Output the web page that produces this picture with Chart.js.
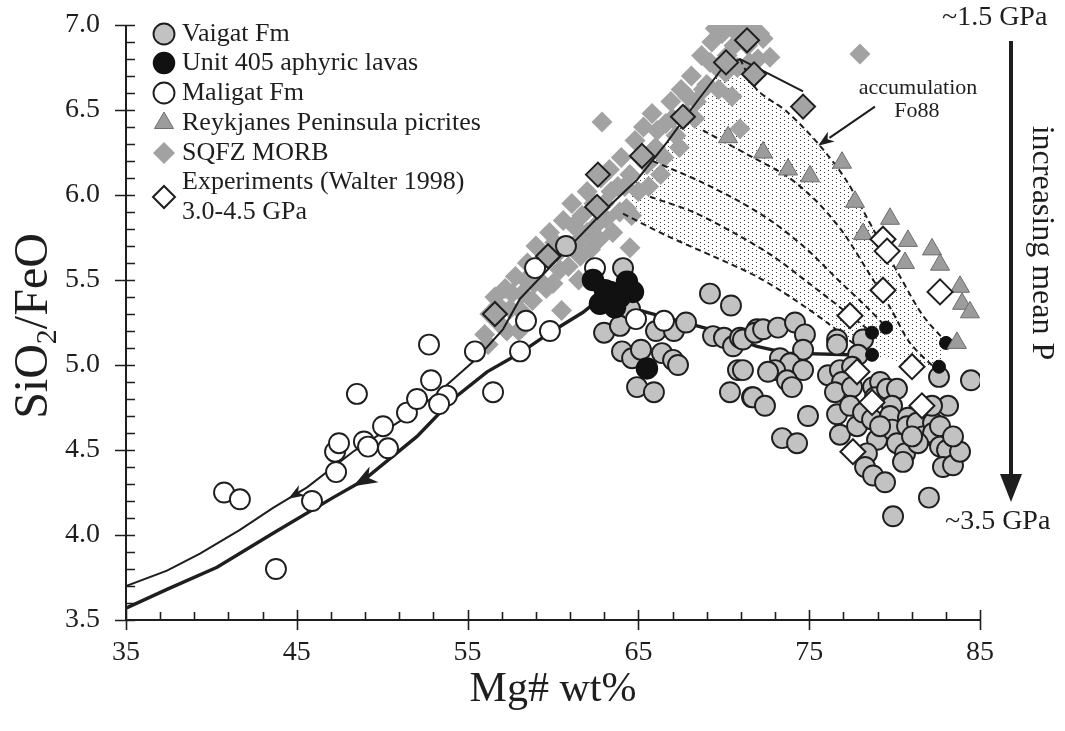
<!DOCTYPE html>
<html>
<head>
<meta charset="utf-8">
<script src="https://cdn.jsdelivr.net/npm/chart.js@4.4.1/dist/chart.umd.min.js"></script>
<style>
  html, body { margin: 0; padding: 0; background: #fff; }
  canvas { display: block; }
</style>
</head>
<body>
<canvas id="chart" width="1065" height="731"></canvas>
<script>
// Mg# (wt%) against SiO2/FeO for the lava suites, with melting-model trends

const vaigat = [
  [60.76,5.70],[64.10,5.57],[62.99,5.19],[63.92,5.23],[64.04,5.08],[64.63,5.04],[65.15,5.09],
  [66.38,5.07],[67.03,5.03],[67.32,5.00],[64.92,4.87],[65.91,4.84],[66.03,5.20],[67.08,5.20],
  [67.79,5.25],[69.19,5.42],[70.42,5.35],[69.37,5.17],[70.01,5.16],[70.54,5.11],[70.95,5.16],
  [70.83,4.97],[70.36,4.84],[71.65,4.81],[71.94,5.21],[64.51,5.33],[71.12,5.15],[71.83,5.19],
  [72.30,5.21],[73.17,5.22],[74.17,5.25],[74.75,5.18],[74.64,5.09],[73.29,5.04],[73.88,5.01],
  [73.00,4.97],[74.64,4.97],[72.59,4.96],[73.70,4.91],[73.99,4.87],[71.12,4.97],[71.71,4.81],
  [72.41,4.76],[74.93,4.70],[73.41,4.57],[74.29,4.54],[76.63,5.15],[76.63,5.12],[78.15,5.15],
  [77.86,5.06],[76.10,4.94],[76.80,4.97],[77.51,4.99],[76.92,4.90],[76.51,4.84],[77.51,4.87],
  [76.63,4.71],[76.80,4.59],[77.39,4.76],[77.80,4.64],[78.15,4.72],[78.74,4.87],[79.15,4.90],
  [78.85,4.81],[78.68,4.68],[78.97,4.56],[78.38,4.48],[78.27,4.40],[78.74,4.35],[79.44,4.31],
  [79.56,4.86],[80.14,4.86],[79.85,4.76],[79.73,4.70],[79.85,4.62],[80.78,4.69],[80.73,4.64],
  [81.31,4.66],[81.66,4.58],[80.14,4.54],[80.61,4.48],[80.49,4.43],[82.25,4.66],[82.25,4.60],
  [82.66,4.64],[83.13,4.76],[82.66,4.52],[83.07,4.50],[82.83,4.40],[83.42,4.41],[83.83,4.49],
  [83.42,4.58],[82.60,4.93],[84.47,4.91],[82.01,4.22],[79.91,4.11],[81.37,4.54],[81.02,4.58],
  [82.19,4.76],[79.15,4.64]
];

const unit405 = [
  [62.34,5.50],[63.34,5.43],[64.33,5.49],[64.68,5.43],[62.75,5.36],[63.63,5.34],[63.92,5.40],
  [63.04,5.44],[65.50,4.98]
];

const maligat = [
  [40.74,4.25],[41.67,4.21],[43.78,3.80],[45.89,4.20],[47.30,4.37],[47.24,4.49],[47.47,4.54],
  [48.93,4.55],[49.17,4.52],[50.34,4.51],[50.05,4.64],[48.52,4.83],[51.45,4.72],[52.04,4.80],
  [52.86,4.91],[52.74,5.12],[53.79,4.82],[53.33,4.77],[55.43,5.08],[56.49,4.84],[58.07,5.08],
  [58.42,5.26],[59.82,5.20],[58.95,5.57],[62.46,5.57],[64.86,5.27],[66.50,5.26]
];

const reykjanes = [
  [70.25,6.34],[72.30,6.25],[73.76,6.15],[75.05,6.11],[76.92,6.19],[77.68,5.96],[79.73,5.86],
  [78.15,5.77],[80.78,5.73],[82.19,5.68],[80.61,5.60],[82.66,5.59],[83.83,5.46],[83.95,5.36],
  [84.41,5.31],[83.65,5.13]
];

const sqfzMorb = [
  [56.0,5.18],[56.3,5.30],[56.6,5.40],[56.9,5.24],[57.2,5.45],[57.5,5.33],[57.8,5.52],[58.0,5.20],
  [58.2,5.42],[58.5,5.60],[58.8,5.38],[59.0,5.70],[59.2,5.50],[59.5,5.62],[59.8,5.78],[60.0,5.48],
  [60.3,5.66],[60.6,5.85],[60.9,5.58],[61.1,5.95],[61.4,5.72],[61.7,5.88],[62.0,6.02],[62.2,5.68],
  [62.5,5.82],[62.8,6.10],[63.0,5.95],[63.3,6.15],[63.5,5.78],[63.8,6.05],[64.0,6.22],[64.3,5.92],
  [64.5,6.12],[64.8,6.32],[65.0,6.02],[65.3,6.40],[65.5,6.18],[65.8,6.48],[66.0,6.28],[66.3,6.12],
  [66.6,6.42],[66.9,6.55],[67.2,6.35],[67.5,6.62],[67.8,6.48],[68.1,6.70],[68.4,6.55],[68.7,6.82],
  [69.0,6.65],[69.3,6.90],[69.6,6.75],[69.9,6.95],[70.2,6.82],[70.5,6.98],[70.8,6.75],[71.1,7.00],
  [71.4,6.88],[71.7,6.98],[72.0,6.80],[72.3,6.92],[60.5,5.32],[61.5,5.50],[58.2,5.22],
  [56.2,5.12],[56.8,5.35],[57.3,5.20],[57.6,5.42],[58.1,5.32],[58.4,5.50],[58.9,5.48],[59.3,5.60],
  [59.6,5.45],[60.1,5.72],[60.4,5.56],[60.8,5.70],[61.2,5.82],[61.6,5.64],[62.0,5.78],[62.4,5.95],
  [62.7,5.74],[63.1,5.86],[63.4,6.02],[63.9,5.90],[64.2,6.05],[64.6,5.88],[65.1,6.22],[65.6,6.05],
  [66.1,6.38],[66.5,6.22],[67.0,6.45],[67.4,6.28],[67.9,6.58],[68.3,6.45],[68.8,6.62],[69.2,6.78],
  [69.7,6.62],[70.1,6.72],[70.6,6.88],[71.0,6.92],[71.5,6.78],[72.1,6.95],[69.5,6.98],[70.3,7.00],
  [62.87,6.43],[64.51,5.69],[70.95,6.39],[70.48,6.58],[72.70,6.81],[77.97,6.83]
];

// experiments along the low-pressure trend (no legend entry)
const lowPExp = [
  [71.36,6.91],[70.13,6.78],[71.77,6.71],[74.64,6.52],[67.61,6.46],[65.21,6.23],[62.63,6.12],
  [62.58,5.93],[59.71,5.64],[56.60,5.30]
];

const walter = [
  [79.32,5.74],[79.56,5.67],[79.32,5.44],[82.66,5.43],[77.39,5.29],[77.80,4.96],[81.02,4.99],
  [78.68,4.78],[81.60,4.76],[77.56,4.49]
];

// model trends
const thinTrend = [
  [35.0,3.70],[37.4,3.79],[39.33,3.89],[41.67,4.03],[43.61,4.16],[45.6,4.28],[48.29,4.49],
  [51.04,4.67],[52.97,4.81],[55.55,5.04],[57.07,5.21],[58.07,5.39],[60.82,5.68],[62.93,5.90],
  [64.92,6.09],[66.67,6.31],[68.43,6.55],[69.95,6.75],[70.95,6.80],[74.64,6.61]
];
const thickTrend = [
  [35.0,3.57],[37.4,3.68],[40.33,3.81],[43.61,4.01],[47.12,4.22],[48.88,4.32],[52.04,4.58],
  [54.15,4.80],[56.14,4.96],[58.07,5.07],[59.82,5.19],[61.76,5.31],[62.75,5.39],[65.5,5.31],
  [69.19,5.21],[71.94,5.11],[73.7,5.07],[77.4,5.06]
];

// olivine (Fo88) accumulation paths
const accumA = [[70.95,6.80],[71.94,6.62],[73.70,6.49],[75.63,6.29],[77.21,6.08],[78.74,5.80],[80.32,5.52],[81.66,5.29],[83.07,5.13]];
const accumB = [[68.78,6.38],[71.53,6.23],[73.70,6.11],[75.46,5.96],[76.98,5.78],[78.38,5.56],[79.73,5.34],[80.90,5.13],[82.48,4.97]];
const accumC = [[65.85,6.20],[68.61,6.08],[70.95,5.96],[72.88,5.84],[74.87,5.68],[76.80,5.49],[78.38,5.34],[79.44,5.23]];
const accumD = [[65.68,5.99],[68.20,5.90],[70.54,5.78],[72.88,5.64],[74.87,5.49],[76.80,5.34],[78.56,5.20]];
const accumE = [[64.10,5.89],[66.67,5.76],[69.37,5.64],[71.94,5.52],[74.05,5.39],[76.04,5.25],[77.56,5.13],[78.56,5.06]];
const accumEnds = [[83.01,5.13],[82.60,4.99],[79.50,5.22],[78.68,5.19],[78.68,5.06]];

const xTicks = [35, 45, 55, 65, 75, 85];
const yTicks = [3.5, 4.0, 4.5, 5.0, 5.5, 6.0, 6.5, 7.0];

const serif = '"Liberation Serif", "Times New Roman", serif';
const ink = '#1e1e1e';
const pts = arr => arr.map(([x, y]) => ({x, y}));

// stippled region between the low-P trend and the accumulation paths
const stippleShape = [
  accumE[0],
  ...thinTrend.filter(p => p[0] > 64.5 && p[0] <= 70.95),
  ...accumA.slice(1),
  accumB[accumB.length - 1],
  ...accumE.slice().reverse()
];

const cvs = document.getElementById('chart');
const mainCtx = cvs.getContext('2d');

function stipple() {
  const c = document.createElement('canvas');
  c.width = 8; c.height = 4;
  const g = c.getContext('2d');
  g.fillStyle = '#ffffff';
  g.fillRect(0, 0, 8, 4);
  g.fillStyle = '#3a3a3a';
  g.fillRect(0, 0, 1, 1);
  g.fillRect(4, 2, 1, 1);
  return mainCtx.createPattern(c, 'repeat');
}

function head(ctx, tx, ty, dx, dy, len, half) {
  const m = Math.hypot(dx, dy), ux = dx / m, uy = dy / m;
  const bx = tx - ux * len, by = ty - uy * len;
  ctx.beginPath();
  ctx.moveTo(tx, ty);
  ctx.lineTo(bx - uy * half, by + ux * half);
  ctx.lineTo(tx - ux * len * 0.72, ty - uy * len * 0.72);
  ctx.lineTo(bx + uy * half, by - ux * half);
  ctx.closePath();
  ctx.fill();
}

function arrowOnLine(chart, line, atX, len, half) {
  const {x, y} = chart.scales;
  for (let i = 0; i < line.length - 1; i++) {
    const [x0, y0] = line[i], [x1, y1] = line[i + 1];
    if (atX >= x0 && atX <= x1) {
      const t = (atX - x0) / (x1 - x0);
      const px = x.getPixelForValue(atX), py = y.getPixelForValue(y0 + t * (y1 - y0));
      const dx = x.getPixelForValue(x0) - x.getPixelForValue(x1);
      const dy = y.getPixelForValue(y0) - y.getPixelForValue(y1);
      head(chart.ctx, px, py, dx, dy, len, half);
      return;
    }
  }
}

// axes with inward minor ticks and crossing major ticks
const frame = {
  id: 'frame',
  afterDraw(chart) {
    const {ctx, chartArea: a, scales: {x, y}} = chart;
    ctx.save();
    ctx.strokeStyle = ink;
    ctx.lineWidth = 2;
    ctx.beginPath();
    ctx.moveTo(a.left, a.top);
    ctx.lineTo(a.left, a.bottom);
    ctx.lineTo(a.right, a.bottom);
    ctx.stroke();
    ctx.lineWidth = 1.6;
    ctx.beginPath();
    for (let v = 35; v <= 85; v += 2) {
      const px = Math.round(x.getPixelForValue(v)) + 0.5;
      const major = (v - 35) % 10 === 0;
      ctx.moveTo(px, major ? a.bottom + 10 : a.bottom);
      ctx.lineTo(px, major ? a.bottom - 10 : a.bottom - 8);
    }
    for (let i = 0; i <= 35; i++) {
      const py = Math.round(y.getPixelForValue(3.5 + i * 0.1)) + 0.5;
      const major = i % 5 === 0;
      ctx.moveTo(major ? a.left - 11 : a.left, py);
      ctx.lineTo(a.left + 9, py);
    }
    ctx.stroke();
    ctx.restore();
  }
};

const notes = {
  id: 'notes',
  afterDraw(chart) {
    const {ctx, chartArea: a, scales: {x, y}} = chart;
    ctx.save();
    ctx.fillStyle = ink;
    ctx.strokeStyle = ink;

    // y title with subscript
    ctx.save();
    ctx.translate(47, 326);
    ctx.rotate(-Math.PI / 2);
    ctx.textBaseline = 'alphabetic';
    const big = '48px ' + serif, small = '30px ' + serif;
    ctx.font = big; const w1 = ctx.measureText('SiO').width, w3 = ctx.measureText('/FeO').width;
    ctx.font = small; const w2 = ctx.measureText('2').width;
    let cx = -(w1 + w2 + w3) / 2;
    ctx.font = big; ctx.fillText('SiO', cx, 0); cx += w1;
    ctx.font = small; ctx.fillText('2', cx, 9); cx += w2;
    ctx.font = big; ctx.fillText('/FeO', cx, 0);
    ctx.restore();

    // arrowheads on the model trends
    arrowOnLine(chart, thinTrend, 44.5, 16, 6);
    arrowOnLine(chart, thickTrend, 48.3, 24, 9);

    // accumulation label and pointer
    ctx.font = '22px ' + serif;
    ctx.textAlign = 'center';
    ctx.textBaseline = 'middle';
    ctx.fillText('accumulation', x.getPixelForValue(81.37), y.getPixelForValue(6.63));
    ctx.fillText('Fo88', x.getPixelForValue(81.31), y.getPixelForValue(6.49));
    const tail = [78.85, 6.52], tip = [75.52, 6.29];
    const tx = x.getPixelForValue(tip[0]), ty = y.getPixelForValue(tip[1]);
    const sx = x.getPixelForValue(tail[0]), sy = y.getPixelForValue(tail[1]);
    ctx.lineWidth = 2;
    ctx.beginPath();
    ctx.moveTo(sx, sy);
    ctx.lineTo(tx + (sx - tx) * 0.2, ty + (sy - ty) * 0.2);
    ctx.stroke();
    head(ctx, tx, ty, tx - sx, ty - sy, 16, 6);

    // pressure arrow at the right
    const ax = a.right + 31;
    ctx.lineWidth = 4;
    ctx.beginPath();
    ctx.moveTo(ax, a.top + 16);
    ctx.lineTo(ax, a.bottom - 140);
    ctx.stroke();
    ctx.beginPath();
    ctx.moveTo(ax, a.bottom - 118);
    ctx.lineTo(ax - 11, a.bottom - 146);
    ctx.lineTo(ax + 11, a.bottom - 146);
    ctx.closePath();
    ctx.fill();
    ctx.font = '28px ' + serif;
    ctx.textAlign = 'left';
    ctx.fillText('~1.5 GPa', a.right - 38, 18);
    ctx.fillText('~3.5 GPa', a.right - 35, a.bottom - 98);
    ctx.save();
    ctx.translate(a.right + 61, 243);
    ctx.rotate(Math.PI / 2);
    ctx.textAlign = 'center';
    ctx.font = '32px ' + serif;
    ctx.fillText('increasing mean P', 0, 0);
    ctx.restore();

    // legend inside the plot
    const items = legendOrder.map(i => chart.data.datasets[i]);
    const rowY = [34, 63, 93, 123, 153, 182];
    items.forEach((ds, i) => {
      const my = i === 5 ? 197 : rowY[i];
      ctx.fillStyle = ds.pointBackgroundColor;
      ctx.strokeStyle = ds.pointBorderColor;
      ctx.lineWidth = ds.pointBorderWidth;
      Chart.helpers.drawPoint(ctx, {
        pointStyle: ds.pointStyle, radius: ds.legendRadius, rotation: 0, borderWidth: ds.pointBorderWidth
      }, a.left + 38, my);
      ctx.fillStyle = ink;
      ctx.font = '26px ' + serif;
      ctx.textAlign = 'left';
      ctx.textBaseline = 'middle';
      ds.label.split('\n').forEach((line, k) => ctx.fillText(line, a.left + 56, rowY[i] + k * 30));
    });
    ctx.restore();
  }
};

const pointSet = (label, data, o) => Object.assign({
  label, data: pts(data), showLine: false, pointHoverRadius: 0
}, o);
const lineSet = (data, o) => Object.assign({
  label: '', data: pts(data), showLine: true, pointRadius: 0, pointHoverRadius: 0,
  borderColor: ink, fill: false
}, o);

const datasets = [
  lineSet(stippleShape, {borderWidth: 0, fill: 'shape', backgroundColor: stipple(), order: 20}),
  pointSet('SQFZ MORB', sqfzMorb, {pointStyle: 'rectRot', pointRadius: 10.5, legendRadius: 11,
    pointBackgroundColor: '#a2a2a2', pointBorderColor: '#a2a2a2', pointBorderWidth: 0, order: 19}),
  lineSet(thinTrend, {borderWidth: 2, order: 18}),
  lineSet(thickTrend, {borderWidth: 3.4, order: 17}),
  ...[accumA, accumB, accumC, accumD, accumE].map(c =>
    lineSet(c, {borderWidth: 2, borderDash: [6, 4], tension: 0.3, order: 16})),
  pointSet('Vaigat Fm', vaigat, {pointStyle: 'circle', pointRadius: 10, legendRadius: 10.5,
    pointBackgroundColor: '#c2c2c2', pointBorderColor: ink, pointBorderWidth: 1.9, order: 10}),
  pointSet('Maligat Fm', maligat, {pointStyle: 'circle', pointRadius: 10, legendRadius: 10.5,
    pointBackgroundColor: '#ffffff', pointBorderColor: ink, pointBorderWidth: 1.9, order: 9}),
  pointSet('Unit 405 aphyric lavas', unit405, {pointStyle: 'circle', pointRadius: 10.5, legendRadius: 10.5,
    pointBackgroundColor: '#111111', pointBorderColor: '#111111', pointBorderWidth: 1.5, order: 8}),
  pointSet('', accumEnds, {pointStyle: 'circle', pointRadius: 6.5,
    pointBackgroundColor: '#111111', pointBorderColor: '#111111', pointBorderWidth: 1, order: 7}),
  pointSet('Reykjanes Peninsula picrites', reykjanes, {pointStyle: 'triangle', pointRadius: 11, legendRadius: 11,
    pointBackgroundColor: '#9c9c9c', pointBorderColor: '#6e6e6e', pointBorderWidth: 1, order: 6}),
  pointSet('', lowPExp, {pointStyle: 'rectRot', pointRadius: 12,
    pointBackgroundColor: '#a4a4a4', pointBorderColor: ink, pointBorderWidth: 2, order: 5}),
  pointSet('Experiments (Walter 1998)\n3.0-4.5 GPa', walter, {pointStyle: 'rectRot', pointRadius: 12.5, legendRadius: 11,
    pointBackgroundColor: '#ffffff', pointBorderColor: ink, pointBorderWidth: 2, order: 4})
];

const legendOrder = ['Vaigat Fm', 'Unit 405 aphyric lavas', 'Maligat Fm', 'Reykjanes Peninsula picrites',
  'SQFZ MORB', 'Experiments (Walter 1998)\n3.0-4.5 GPa'].map(l => datasets.findIndex(d => d.label === l));

new Chart(cvs, {
  type: 'scatter',
  data: { datasets },
  options: {
    responsive: false,
    animation: false,
    events: [],
    layout: { padding: { left: 0, right: 85, top: 25, bottom: 0 } },
    plugins: { legend: { display: false }, tooltip: { enabled: false } },
    scales: {
      x: {
        type: 'linear', min: 35, max: 85,
        afterBuildTicks: s => { s.ticks = xTicks.map(v => ({value: v})); },
        ticks: { color: ink, font: { family: serif, size: 28 }, padding: 16 },
        grid: { display: false, drawTicks: false },
        border: { display: false },
        title: { display: true, text: 'Mg# wt%', color: ink, font: { family: serif, size: 42 },
          padding: { top: 0, bottom: 16 } },
        afterFit: s => { s.height = 111; s.paddingLeft = 0; s.paddingRight = 0; }
      },
      y: {
        type: 'linear', min: 3.5, max: 7.0,
        afterBuildTicks: s => { s.ticks = yTicks.map(v => ({value: v})); },
        ticks: { color: ink, font: { family: serif, size: 28 }, padding: 26, callback: v => v.toFixed(1) },
        grid: { display: false, drawTicks: false },
        border: { display: false },
        afterFit: s => { s.width = 126; s.paddingTop = 0; s.paddingBottom = 0; }
      }
    }
  },
  plugins: [frame, notes]
});
</script>
</body>
</html>
